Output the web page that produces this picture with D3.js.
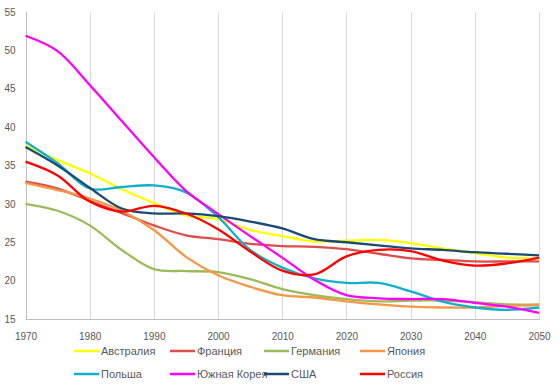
<!DOCTYPE html>
<html>
<head>
<meta charset="utf-8">
<script src="https://cdn.jsdelivr.net/npm/d3@7"></script>
<style>
  body { margin: 0; background: #fff; }
  text { font-family: "Liberation Sans", Arial, sans-serif; fill: #595959; }
</style>
</head>
<body>
<div id="chart"></div>
<script>
'use strict';

// years along the x axis
const years = [1970, 1975, 1980, 1985, 1990, 1995, 2000, 2005, 2010, 2015, 2020, 2025, 2030, 2035, 2040, 2045, 2050];
const xTicks = [1970, 1980, 1990, 2000, 2010, 2020, 2030, 2040, 2050];
const yTicks = [15, 20, 25, 30, 35, 40, 45, 50, 55];

const names = ['Австралия', 'Франция', 'Германия', 'Япония', 'Польша', 'Южная Корея', 'США', 'Россия'];
const colors = ['#ffff00', '#dc4e4a', '#9bbb59', '#f79646', '#12b0cb', '#ff00ff', '#1b4a72', '#ff0000'];

const australia = [37.6, 35.7, 34.0, 31.9, 30.1, 28.5, 28.0, 26.6, 25.8, 25.1, 25.2, 25.3, 24.9, 24.2, 23.6, 23.0, 22.9];
const france    = [32.9, 32.0, 30.4, 28.8, 27.2, 25.9, 25.4, 24.8, 24.5, 24.4, 24.1, 23.5, 22.9, 22.7, 22.5, 22.5, 22.5];
const germany   = [30.0, 29.1, 27.2, 24.0, 21.5, 21.25, 21.1, 20.2, 18.9, 18.1, 17.6, 17.3, 17.4, 17.4, 17.2, 16.9, 16.9];
const japan     = [32.75, 31.8, 30.7, 29.1, 26.6, 23.1, 20.7, 19.2, 18.1, 17.8, 17.3, 16.9, 16.6, 16.5, 16.5, 16.7, 16.8];
const poland    = [38.1, 35.3, 32.0, 32.2, 32.4, 31.5, 28.3, 24.0, 21.7, 20.3, 19.7, 19.7, 18.6, 17.25, 16.5, 16.2, 16.5];
const korea     = [51.9, 49.9, 45.5, 40.8, 36.1, 31.7, 28.7, 25.8, 23.0, 20.1, 18.1, 17.7, 17.6, 17.6, 17.1, 16.6, 15.8];
const usa       = [37.4, 35.0, 32.1, 29.4, 28.75, 28.75, 28.4, 27.7, 26.8, 25.4, 25.0, 24.6, 24.2, 24.0, 23.7, 23.5, 23.3];
const russia    = [35.5, 33.7, 30.3, 29.0, 29.75, 28.75, 26.7, 23.8, 21.3, 20.8, 23.15, 24.0, 23.85, 22.6, 21.95, 22.25, 23.0];

const allSeries = [australia, france, germany, japan, poland, korea, usa, russia];

const width = 560, height = 392;
const plotLeft = 25.5, plotRight = 539, plotTop = 12, plotBottom = 319;

const svg = d3.select('#chart').append('svg')
  .attr('width', width)
  .attr('height', height);

const x = d3.scaleLinear().domain([1970, 2050]).range([plotLeft, plotRight]);
const y = d3.scaleLinear().domain([15, 55]).range([plotBottom, plotTop]);

// vertical gridlines
svg.append('g')
  .selectAll('line')
  .data(xTicks)
  .enter().append('line')
    .attr('x1', d => Math.round(x(d)) + 0.5)
    .attr('x2', d => Math.round(x(d)) + 0.5)
    .attr('y1', plotTop)
    .attr('y2', plotBottom)
    .attr('stroke', d => d === 1970 ? '#bfbfbf' : '#d9d9d9')
    .attr('stroke-width', 1);

// bottom axis line
svg.append('line')
  .attr('x1', plotLeft).attr('x2', plotRight + 1)
  .attr('y1', plotBottom + 0.5).attr('y2', plotBottom + 0.5)
  .attr('stroke', '#bfbfbf');

const xAxis = d3.axisBottom(x).tickValues(xTicks).tickFormat(d3.format('d')).tickSize(0).tickPadding(14);
svg.append('g')
  .attr('transform', `translate(0,${plotBottom})`)
  .call(xAxis)
  .call(g => g.select('.domain').remove())
  .selectAll('text')
    .style('font-size', '10px')
    .attr('fill', '#595959');

const yAxis = d3.axisLeft(y).tickValues(yTicks).tickSize(0).tickPadding(10);
svg.append('g')
  .attr('transform', `translate(${plotLeft},0)`)
  .call(yAxis)
  .call(g => g.select('.domain').remove())
  .selectAll('text')
    .style('font-size', '10px')
    .attr('fill', '#595959');

const line = d3.line()
  .x((d, i) => x(years[i]))
  .y(d => y(d))
  .curve(d3.curveCatmullRom.alpha(0.5));

svg.append('g')
  .selectAll('path')
  .data(allSeries)
  .enter().append('path')
    .attr('d', d => line(d))
    .attr('fill', 'none')
    .attr('stroke', (d, i) => colors[i])
    .attr('stroke-width', 2.3)
    .attr('stroke-linejoin', 'round');

// legend, 4 per row
const legend = svg.append('g')
  .selectAll('g')
  .data(names)
  .enter().append('g')
    .attr('transform', (d, i) => `translate(${[74, 170, 264, 360][i % 4]},${i < 4 ? 351 : 374})`);

legend.append('line')
  .attr('x1', 0).attr('x2', 25)
  .attr('stroke', (d, i) => colors[i])
  .attr('stroke-width', 2.5);

legend.append('text')
  .attr('x', 27)
  .attr('dy', '0.35em')
  .style('font-size', '11px')
  .text(d => d);
</script>
</body>
</html>
